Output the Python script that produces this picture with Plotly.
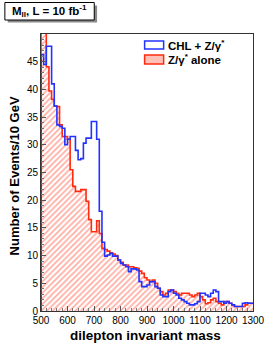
import plotly.graph_objects as go

# ---- data ----
bin_low = list(range(500, 1300, 10))  # 10 GeV bins, lower edges
bin_width = 10

z_alone = [58, 52, 44.1, 39.7, 38.2, 37.0, 36.9, 33.6, 31.5, 31.5,
           31.0, 25.5, 22.5, 21.6, 21.6, 21.9, 21.9, 19.8, 16.5, 14.3,
           14.3, 16.3, 14.0, 11.3, 11.1, 10.8, 10.5, 10.3, 10.0, 9.2,
           8.8, 8.3, 8.3, 8.0, 8.0, 7.8, 7.7, 7.2, 6.8, 6.0,
           5.6, 5.3, 5.6, 5.0, 4.1, 3.5, 2.9, 3.2, 3.8, 3.8,
           3.5, 3.2, 2.9, 3.2, 3.2, 3.2, 2.9, 2.6, 2.9, 3.2,
           2.6, 2.0, 1.3, 1.5, 2.0, 2.3, 1.7, 1.4, 1.1, 1.7,
           1.7, 1.4, 1.1, 0.8, 0.8, 0.8, 0.8, 1.1, 1.4, 1.4]

chl_plus_z = [46.3, 44.5, 47.8, 47.8, 41.0, 37.0, 33.6, 33.3, 33.0, 30.0,
              31.0, 31.5, 31.5, 29.0, 27.3, 27.5, 30.3, 31.2, 31.2, 34.2,
              34.2, 31.0, 18.0, 12.4, 9.9, 10.1, 10.4, 9.9, 9.9, 9.2,
              8.6, 8.3, 8.0, 7.1, 7.6, 7.6, 7.4, 5.3, 4.4, 4.4,
              4.7, 5.3, 5.3, 4.4, 4.1, 2.9, 2.6, 2.6, 3.5, 3.8,
              3.2, 2.9, 2.3, 2.0, 1.7, 1.4, 1.1, 1.1, 1.3, 1.7,
              3.2, 3.2, 2.9, 2.6, 3.2, 3.8, 3.5, 1.7, 1.7, 1.4,
              1.7, 1.4, 1.1, 0.8, 0.8, 0.8, 1.4, 1.5, 1.4, 1.4]

x_ticks = [500, 600, 700, 800, 900, 1000, 1100, 1200, 1300]
y_ticks = [0, 5, 10, 15, 20, 25, 30, 35, 40, 45]

RED = "#ff2a10"
BLUE = "#2233ff"

# ---- geometry (pixels) ----
W, H = 277, 346
L, R, T, B = 41, 13, 34, 35
pw, ph = W - L - R, H - T - B


def px(x):
    return (x - L) / pw


def py(y):
    return (H - B - y) / ph


centers = [b + bin_width / 2 for b in bin_low]
edges = bin_low + [bin_low[-1] + bin_width]

fig = go.Figure()

# hatched fill of Z/gamma* alone
fig.add_trace(go.Bar(
    x=centers, y=z_alone, width=bin_width,
    marker=dict(color="white", line=dict(width=0),
                pattern=dict(shape="/", fgcolor="#ff5540", bgcolor="white",
                             size=4, solidity=0.4)),
    showlegend=False, hoverinfo="skip"))

# step outlines
fig.add_trace(go.Scatter(
    x=[edges[0]] + edges, y=[0] + z_alone + [z_alone[-1]],
    mode="lines", line=dict(color=RED, width=1.6, shape="hv"),
    showlegend=False))
fig.add_trace(go.Scatter(
    x=[edges[0]] + edges, y=[0] + chl_plus_z + [chl_plus_z[-1]],
    mode="lines", line=dict(color=BLUE, width=1.6, shape="hv"),
    showlegend=False))

axis_common = dict(showgrid=False, zeroline=False, showline=True, mirror=True,
                   linecolor="#333", linewidth=1, ticks="inside", ticklen=5,
                   tickcolor="#555", tickfont=dict(family="Liberation Sans", size=10, color="black"))

fig.update_xaxes(range=[500, 1300], tickvals=x_ticks,
                 minor=dict(dtick=20, ticks="inside", ticklen=3, tickcolor="#777"),
                 **axis_common)
fig.update_yaxes(range=[0, 50], tickvals=y_ticks,
                 minor=dict(dtick=1, ticks="inside", ticklen=3, tickcolor="#777"),
                 **axis_common)

shapes = []
# title box with shadow
shapes.append(dict(type="rect", xref="paper", yref="paper",
                   x0=px(6), x1=px(100), y0=py(5.5), y1=py(22.5),
                   fillcolor="#8a8a8a", line=dict(width=0), layer="above"))
shapes.append(dict(type="rect", xref="paper", yref="paper",
                   x0=px(3), x1=px(97), y0=py(2.5), y1=py(20),
                   fillcolor="white", line=dict(color="black", width=1), layer="above"))
# legend swatches
shapes.append(dict(type="rect", xref="paper", yref="paper",
                   x0=px(150), x1=px(170), y0=py(41), y1=py(49),
                   fillcolor="white", line=dict(color=BLUE, width=1.5), layer="above"))
shapes.append(dict(type="rect", xref="paper", yref="paper",
                   x0=px(150), x1=px(170), y0=py(55), y1=py(64),
                   fillcolor="#ffc0b5", line=dict(color=RED, width=1.5), layer="above"))

annotations = [
    dict(text="<b>M<sub>ll</sub>, L = 10 fb<sup>-1</sup></b>", x=px(50), y=py(11.5),
         xref="paper", yref="paper", showarrow=False, xanchor="center", yanchor="middle",
         font=dict(family="Liberation Sans", size=11.5, color="black")),
    dict(text="<b>CHL + Z/γ<sup>*</sup></b>", x=px(172), y=py(45),
         xref="paper", yref="paper", showarrow=False, xanchor="left", yanchor="middle",
         font=dict(family="Liberation Sans", size=11.5, color="black")),
    dict(text="<b>Z/γ<sup>*</sup> alone</b>", x=px(172), y=py(59.5),
         xref="paper", yref="paper", showarrow=False, xanchor="left", yanchor="middle",
         font=dict(family="Liberation Sans", size=11.5, color="black")),
    dict(text="<b>Number of Events/10 GeV</b>", x=px(13), y=py(176),
         xref="paper", yref="paper", showarrow=False, textangle=-90,
         xanchor="center", yanchor="middle",
         font=dict(family="Liberation Sans", size=13, color="black")),
    dict(text="<b>dilepton invariant mass</b>", x=px(151), y=py(335),
         xref="paper", yref="paper", showarrow=False,
         xanchor="center", yanchor="middle",
         font=dict(family="Liberation Sans", size=13.5, color="black")),
]

fig.update_layout(width=W, height=H, margin=dict(l=L, r=R, t=T, b=B),
                  paper_bgcolor="white", plot_bgcolor="white",
                  bargap=0, showlegend=False, shapes=shapes, annotations=annotations)

fig.write_html("out.html", config={"displayModeBar": False},
               post_script="document.body.style.margin='0';document.body.style.padding='0';document.body.style.overflow='hidden';")
